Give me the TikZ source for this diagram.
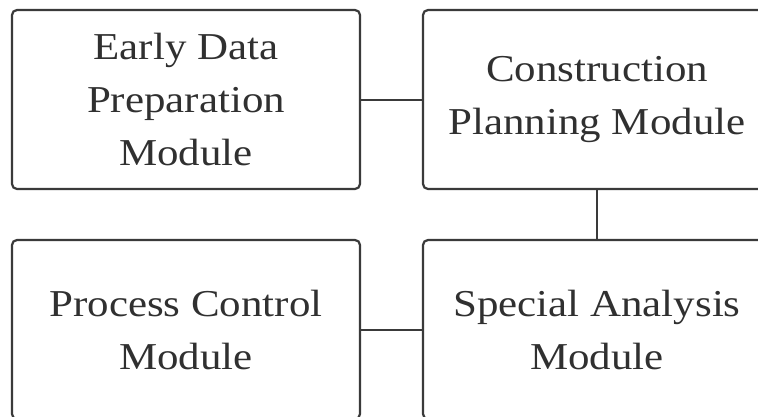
\documentclass[tikz,border=0pt]{standalone}
\usepackage{fontspec}
\setmainfont[FakeStretch=1.13]{Liberation Serif}
\definecolor{linegray}{HTML}{3A3A3A}
\definecolor{textgray}{HTML}{303030}
\begin{document}
\begin{tikzpicture}[x=1pt,y=-1pt,
  modbox/.style={draw=linegray, line width=2.2pt, rounded corners=5pt,
    minimum width=348pt, minimum height=179pt, inner sep=0pt,
    align=center, text=textgray,
    font=\fontsize{38pt}{53pt}\selectfont},
  link/.style={draw=linegray, line width=2pt}]
\useasboundingbox (0,0) rectangle (758,416);
\begin{scope}
\clip (0,0) rectangle (758,416);
\node[modbox] (early) at (186,99.5) {Early Data\\Preparation\\Module};
\node[modbox] (constr) at (597,99.5) {Construction\\Planning Module};
\node[modbox] (proc) at (186,329.5) {Process Control\\Module};
\node[modbox] (spec) at (597,329.5) {Special Analysis\\Module};
\draw[link] (early.east) -- (constr.west);
\draw[link] (constr.south) -- (spec.north);
\draw[link] (proc.east) -- (spec.west);
\end{scope}
\end{tikzpicture}
\end{document}
